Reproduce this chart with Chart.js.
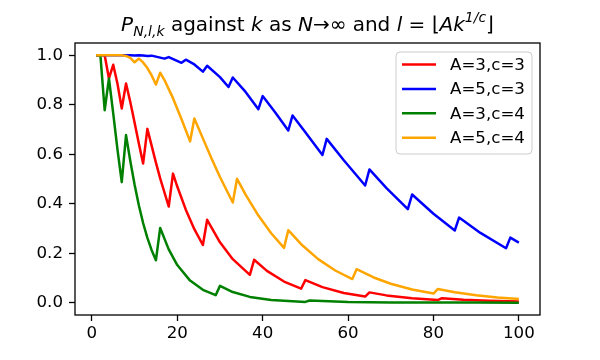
<!DOCTYPE html>
<html lang="en">
<head>
  <meta charset="UTF-8">
  <title>P against k</title>
  <script src="https://cdn.jsdelivr.net/npm/chart.js@4"></script>
  <style>
    body { margin: 0; background: #fff; }
    canvas { display: block; }
  </style>
</head>
<body>
<canvas id="chart" width="600" height="360"></canvas>
<script>
  // values (k on x, P on y), only the corners and a few points in between
  const redK = [1,2,3,4,5,6,7,8,9,10,11,12,13,15,16,18,19,20,22,24,26,27,30,33,37,38,41,45,49,50,54,59,64,65,69,75,81,82,87,93,100];
  const redP = [1,1,1,0.9063,0.9616,0.8848,0.7850,0.8860,0.8110,0.7282,0.6438,0.5622,0.7026,0.5660,0.5023,0.3888,
                0.5217,0.4694,0.3759,0.2972,0.2330,0.3350,0.2441,0.1757,0.1120,0.1733,0.1283,0.0853,0.0565,
                0.0913,0.0629,0.0393,0.0245,0.0415,0.0294,0.0175,0.0104,0.0182,0.0122,0.0076,0.0043];

  const blueK = [1,9,10,11,12,13,14,17,18,21,22,24,26,27,30,32,33,36,39,40,43,46,47,50,54,55,59,64,65,69,74,75,80,85,86,91,97,98,100];
  const blueP = [1,1,0.9996,0.9999,0.9992,0.9972,0.9987,0.9865,0.9930,0.9697,0.9825,0.9631,0.9339,0.9578,0.9120,0.8718,
                 0.9103,0.8519,0.7821,0.8351,0.7681,0.6960,0.7570,0.6890,0.5968,0.6622,0.5758,0.4737,0.5385,0.4629,
                 0.3778,0.4373,0.3593,0.2920,0.3439,0.2820,0.2201,0.2629,0.2430];

  const greenK = [1,2,3,4,5,6,7,8,9,10,11,12,13,14,15,16,18,20,23,26,29,30,33,37,42,50,51,60,70,80,81,90,100];
  const greenP = [1,1,0.7778,0.9063,0.7656,0.6191,0.4873,0.6774,0.5729,0.4774,0.3936,0.3220,0.2619,0.2121,0.1712,
                  0.3020,0.2153,0.1520,0.0892,0.0520,0.0302,0.0678,0.0429,0.0233,0.0108,0.0031,0.0088,0.0027,
                  0.0007,0.0002,0.0007,0.0002,0.0001];

  const orangeK = [1,7,8,9,10,11,12,13,14,15,16,17,19,21,23,24,26,28,30,33,34,36,39,42,45,46,49,53,57,61,62,66,70,75,80,81,85,90,95,100];
  const orangeP = [1,1,0.9976,0.9892,0.9718,0.9866,0.9714,0.9487,0.9185,0.8817,0.9297,0.8999,0.8268,0.7417,0.6519,
                   0.7442,0.6642,0.5843,0.5079,0.4048,0.5008,0.4370,0.3522,0.2807,0.2216,0.2930,0.2364,0.1760,
                   0.1300,0.0956,0.1351,0.1018,0.0763,0.0531,0.0369,0.0551,0.0421,0.0299,0.0212,0.0151];

  const seriesLabels = ['A=3,c=3', 'A=5,c=3', 'A=3,c=4', 'A=5,c=4'];
  const seriesColors = ['#ff0000', '#0000ff', '#008000', '#ffa500'];
  const xTicks = [0, 20, 40, 60, 80, 100];
  const yTicks = [0, 0.2, 0.4, 0.6, 0.8, 1.0];

  const FONT = "'DejaVu Sans', sans-serif";

  function pts(ks, ps) {
    return ks.map((k, i) => ({ x: k, y: ps[i] }));
  }

  function line(idx, ks, ps) {
    return {
      label: seriesLabels[idx],
      data: pts(ks, ps),
      borderColor: seriesColors[idx],
      backgroundColor: seriesColors[idx],
      borderWidth: 2.5,
      pointRadius: 0,
      tension: 0,
      fill: false,
      borderJoinStyle: 'round',
      order: 4 - idx   // later series on top, like the original
    };
  }

  // title with sub/superscripts, drawn by hand
  const titlePlugin = {
    id: 'mathTitle',
    afterDraw(chart) {
      const ctx = chart.ctx;
      const runs = [
        ['P', 'italic', 20, 0],
        ['N,l,k', 'italic', 14, 5],
        [' against ', 'normal', 20, 0],
        ['k', 'italic', 20, 0],
        [' as ', 'normal', 20, 0],
        ['N', 'italic', 20, 0],
        ['\u2192\u221e and ', 'normal', 20, 0],
        ['l', 'italic', 20, 0],
        [' = \u230a', 'normal', 20, 0],
        ['Ak', 'italic', 20, 0],
        ['1/c', 'italic', 14, -9],
        ['\u230b', 'normal', 20, 0]
      ];
      ctx.save();
      ctx.fillStyle = '#000';
      ctx.textBaseline = 'alphabetic';
      ctx.textAlign = 'left';
      let total = 0;
      const widths = runs.map(r => {
        ctx.font = r[1] + ' ' + r[2] + 'px ' + FONT;
        const w = ctx.measureText(r[0]).width;
        total += w;
        return w;
      });
      const area = chart.chartArea;
      let x = (area.left + area.right) / 2 - total / 2;
      runs.forEach((r, i) => {
        ctx.font = r[1] + ' ' + r[2] + 'px ' + FONT;
        ctx.fillText(r[0], x, 31 + r[3]);
        x += widths[i];
      });
      ctx.restore();
    }
  };

  // box around the plot plus legend in the upper right corner
  const framePlugin = {
    id: 'frameAndLegend',
    afterDraw(chart) {
      const ctx = chart.ctx;
      const a = chart.chartArea;
      ctx.save();
      ctx.strokeStyle = '#000';
      ctx.lineWidth = 1.3;
      ctx.strokeRect(a.left, a.top, a.right - a.left, a.bottom - a.top);

      // legend
      const bx = 396, by = 52, bw = 136, bh = 102, r = 4;
      ctx.beginPath();
      ctx.moveTo(bx + r, by);
      ctx.arcTo(bx + bw, by, bx + bw, by + bh, r);
      ctx.arcTo(bx + bw, by + bh, bx, by + bh, r);
      ctx.arcTo(bx, by + bh, bx, by, r);
      ctx.arcTo(bx, by, bx + bw, by, r);
      ctx.closePath();
      ctx.fillStyle = 'rgba(255,255,255,0.8)';
      ctx.fill();
      ctx.strokeStyle = '#cccccc';
      ctx.lineWidth = 1;
      ctx.stroke();

      ctx.font = '16.67px ' + FONT;
      ctx.textBaseline = 'middle';
      ctx.textAlign = 'left';
      chart.data.datasets.forEach((ds, i) => {
        const y = 64.5 + i * 24.4;
        ctx.strokeStyle = ds.borderColor;
        ctx.lineWidth = 2.5;
        ctx.beginPath();
        ctx.moveTo(402, y);
        ctx.lineTo(436, y);
        ctx.stroke();
        ctx.fillStyle = '#000';
        ctx.fillText(ds.label, 450, y + 1);
      });
      ctx.restore();
    }
  };

  const tickFont = { family: FONT, size: 16.67 };

  new Chart(document.getElementById('chart').getContext('2d'), {
    type: 'line',
    data: {
      datasets: [
        line(0, redK, redP),
        line(1, blueK, blueP),
        line(2, greenK, greenP),
        line(3, orangeK, orangeP)
      ]
    },
    options: {
      responsive: false,
      animation: false,
      devicePixelRatio: 1,
      layout: { padding: { top: 43, right: 60, left: 0, bottom: 0 } },
      plugins: {
        legend: { display: false },
        tooltip: { enabled: false },
        title: { display: false }
      },
      scales: {
        x: {
          type: 'linear',
          min: -3.95,
          max: 104.95,
          afterBuildTicks: s => { s.ticks = xTicks.map(v => ({ value: v })); },
          afterFit: s => { s.height = 45; },
          grid: { display: true, drawOnChartArea: false, drawTicks: true, tickLength: 6, tickWidth: 1.3, tickColor: '#000' },
          border: { display: false },
          ticks: { color: '#000', font: tickFont, padding: 3, maxRotation: 0, autoSkip: false,
                   callback: v => String(v) }
        },
        y: {
          type: 'linear',
          min: -0.0499,
          max: 1.0498,
          afterBuildTicks: s => { s.ticks = yTicks.map(v => ({ value: v })); },
          afterFit: s => { s.width = 75; },
          grid: { display: true, drawOnChartArea: false, drawTicks: true, tickLength: 6, tickWidth: 1.3, tickColor: '#000' },
          border: { display: false },
          ticks: { color: '#000', font: tickFont, padding: 6, autoSkip: false,
                   callback: v => v.toFixed(1) }
        }
      }
    },
    plugins: [titlePlugin, framePlugin]
  });
</script>
</body>
</html>
